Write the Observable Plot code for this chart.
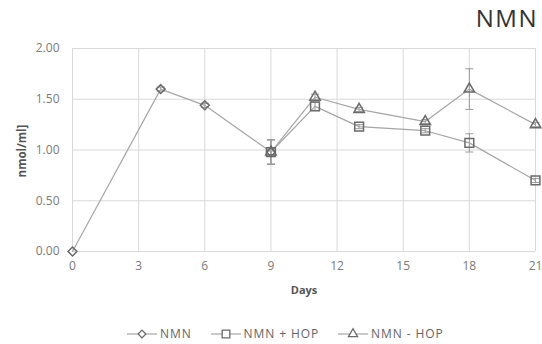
<!DOCTYPE html>
<html>
<head>
<meta charset="utf-8">
<script src="https://cdn.jsdelivr.net/npm/d3@7"></script>
<script src="https://cdn.jsdelivr.net/npm/@observablehq/plot@0.6"></script>
<style>
  html, body { margin: 0; padding: 0; background: #fff; }
  #wrap { position: relative; width: 542px; height: 344px; font-family: "Open Sans", "Liberation Sans", sans-serif; }
  #wrap > svg { position: absolute; left: 0; top: 0; }
  .abs { position: absolute; white-space: nowrap; }
  #title { right: 4px; top: 1px; font-size: 24px; letter-spacing: 1.5px; color: #333; }
  #ylab { left: 21px; top: 151px; transform: translate(-50%, -50%) rotate(-90deg); font-size: 11.5px; font-weight: bold; color: #555; }
  #xlab { left: 304px; top: 289px; transform: translate(-50%, -50%); font-size: 11px; font-weight: bold; color: #555; }
  #legend { left: 126px; top: 325px; display: flex; align-items: center; font-size: 12px; letter-spacing: 0.9px; color: #666; }
  .item { display: flex; align-items: center; margin-right: 18px; }
  .item svg { display: block; margin-right: 2px; }
</style>
</head>
<body>
<div id="wrap">
  <div id="title" class="abs">NMN</div>
  <div id="ylab" class="abs">nmol/ml]</div>
  <div id="xlab" class="abs">Days</div>
  <div id="legend" class="abs"></div>
</div>
<script>
// ---- data ----
const seriesNames = ["NMN", "NMN + HOP", "NMN - HOP"];
const nmnDays = [0, 4, 6, 9];
const nmnValues = [0, 1.60, 1.44, 0.98];
const nmnErrors = [0, 0.02, 0.02, 0.12];
const plusDays = [9, 11, 13, 16, 18, 21];
const plusValues = [0.98, 1.43, 1.23, 1.19, 1.07, 0.70];
const plusErrors = [0.12, 0.04, 0.02, 0.02, 0.09, 0.02];
const minusDays = [9, 11, 13, 16, 18, 21];
const minusValues = [0.98, 1.52, 1.40, 1.28, 1.60, 1.25];
const minusErrors = [0.12, 0.03, 0.02, 0.02, 0.20, 0.02];
const xTicks = [0, 3, 6, 9, 12, 15, 18, 21];
const yTicks = [0, 0.5, 1.0, 1.5, 2.0];

const symbols = ["diamond2", "square2", "triangle2"];
const d3Symbols = [d3.symbolDiamond2, d3.symbolSquare2, d3.symbolTriangle2];
const radii = [4, 5.6, 5];

function rows(name, days, vals, errs) {
  return days.map((d, i) => ({series: name, day: d, value: vals[i], err: errs[i]}));
}
const data = [
  ...rows(seriesNames[0], nmnDays, nmnValues, nmnErrors),
  ...rows(seriesNames[1], plusDays, plusValues, plusErrors),
  ...rows(seriesNames[2], minusDays, minusValues, minusErrors)
];
const withErr = data.filter(d => d.err > 0.015);

const capSymbol = {
  draw(ctx, size) {
    const r = 4;
    ctx.moveTo(-r, 0);
    ctx.lineTo(r, 0);
  }
};

const lineColor = "#a6a6a6";
const markColor = "#6a6a6a";

const marks = [
  Plot.gridX(xTicks, {stroke: "#d9d9d9", strokeOpacity: 1}),
  Plot.gridY(yTicks, {stroke: "#d9d9d9", strokeOpacity: 1}),
  Plot.axisX(xTicks, {tickSize: 0, tickPadding: 10, fill: "#7a7a7a", fontSize: 12, label: null}),
  Plot.axisY(yTicks, {tickSize: 0, tickPadding: 13, fill: "#7a7a7a", fontSize: 12, tickFormat: d3.format(".2f"), label: null}),
  Plot.ruleX(withErr, {x: "day", y1: d => d.value - d.err, y2: d => d.value + d.err, stroke: "#9a9a9a", strokeWidth: 1}),
  Plot.dot(withErr, {x: "day", y: d => d.value + d.err, symbol: capSymbol, stroke: "#9a9a9a", strokeWidth: 1}),
  Plot.dot(withErr, {x: "day", y: d => d.value - d.err, symbol: capSymbol, stroke: "#9a9a9a", strokeWidth: 1})
];
seriesNames.forEach((name, i) => {
  const sd = data.filter(d => d.series === name);
  marks.push(Plot.line(sd, {x: "day", y: "value", stroke: lineColor, strokeWidth: 1.2}));
});
seriesNames.forEach((name, i) => {
  const sd = data.filter(d => d.series === name);
  marks.push(Plot.dot(sd, {x: "day", y: "value", symbol: () => symbols[i], r: radii[i], stroke: markColor, strokeWidth: 1.5, fill: "none"}));
});

const chart = Plot.plot({
  width: 542,
  height: 344,
  marginLeft: 72,
  marginRight: 7,
  marginTop: 48,
  marginBottom: 93,
  style: {fontFamily: "'Open Sans', 'Liberation Sans', sans-serif", background: "#fff"},
  x: {domain: [0, 21]},
  y: {domain: [0, 2]},
  symbol: {type: "identity"},
  marks
});
document.getElementById("wrap").prepend(chart);

// ---- legend ----
const legend = document.getElementById("legend");
seriesNames.forEach((name, i) => {
  const item = document.createElement("div");
  item.className = "item";
  const sym = d3.symbol(d3Symbols[i], Math.PI * radii[i] * radii[i] * 0.75)();
  item.innerHTML = `<svg width="32" height="14"><line x1="1" x2="31" y1="7" y2="7" stroke="${lineColor}" stroke-width="1.2"/><path transform="translate(16,7)" d="${sym}" fill="white" stroke="${markColor}" stroke-width="1.3"/></svg><span>${name}</span>`;
  legend.appendChild(item);
});
</script>
</body>
</html>
